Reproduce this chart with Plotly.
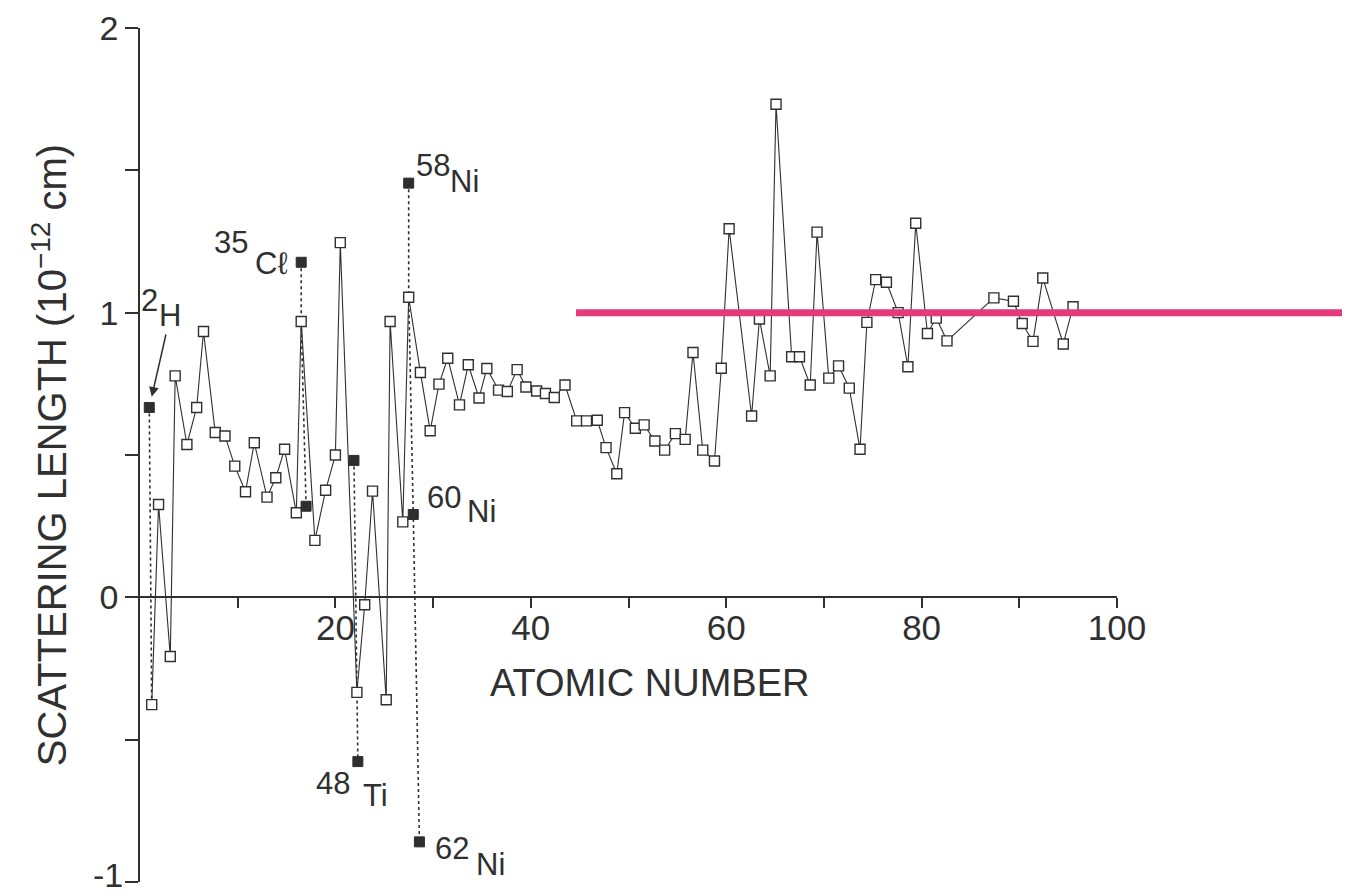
import plotly.graph_objects as go

# ---------------- data ----------------
elements = ["H", "He", "Li", "Be", "B", "C", "N", "O", "F", "Ne",
            "Na", "Mg", "Al", "Si", "P", "S", "Cl", "Ar", "K", "Ca",
            "Sc", "Ti", "V", "Cr", "Mn", "Fe", "Co", "Ni", "Cu", "Zn",
            "Ga", "Ge", "As", "Se", "Br", "Kr", "Rb", "Sr", "Y", "Zr",
            "Nb", "Mo", "Tc", "Ru", "Rh", "Pd", "Ag", "Cd", "In", "Sn",
            "Sb", "Te", "I", "Xe", "Cs", "Ba", "La", "Ce", "Pr", "Nd",
            "Pm", "Sm", "Eu", "Tb", "Dy", "Ho", "Er", "Tm", "Yb", "Lu",
            "Hf", "Ta", "W", "Re", "Os", "Ir", "Pt", "Au", "Hg", "Tl",
            "Pb", "Bi", "Ra", "Th", "Pa", "U", "Np", "Pu", "Am"]

atomic_number = [1.2, 1.9, 3.1, 3.6, 4.8, 5.8, 6.5, 7.7, 8.7, 9.7,
                 10.8, 11.7, 13.0, 13.9, 14.8, 16.0, 16.5, 17.9, 19.0, 20.0,
                 20.5, 22.2, 23.0, 23.8, 25.2, 25.6, 26.9, 27.5, 28.7, 29.7,
                 30.6, 31.5, 32.7, 33.6, 34.7, 35.5, 36.7, 37.6, 38.6, 39.5,
                 40.6, 41.5, 42.4, 43.5, 44.7, 45.7, 46.8, 47.7, 48.8, 49.6,
                 50.7, 51.6, 52.7, 53.7, 54.8, 55.8, 56.6, 57.6, 58.8, 59.5,
                 60.3, 62.6, 63.4, 64.5, 65.1, 66.7, 67.5, 68.6, 69.3, 70.5,
                 71.5, 72.6, 73.7, 74.4, 75.3, 76.4, 77.6, 78.6, 79.4, 80.6,
                 81.5, 82.6, 87.4, 89.4, 90.3, 91.4, 92.4, 94.5, 95.5]

scattering_length = [-0.377, 0.326, -0.208, 0.778, 0.537, 0.667, 0.934, 0.579, 0.567, 0.461,
                     0.371, 0.543, 0.352, 0.420, 0.520, 0.297, 0.969, 0.200, 0.376, 0.500,
                     1.246, -0.334, -0.026, 0.373, -0.360, 0.969, 0.265, 1.054, 0.790, 0.585,
                     0.749, 0.840, 0.676, 0.817, 0.700, 0.804, 0.728, 0.723, 0.800, 0.739,
                     0.725, 0.716, 0.702, 0.746, 0.620, 0.620, 0.622, 0.526, 0.434, 0.649,
                     0.594, 0.606, 0.549, 0.517, 0.575, 0.555, 0.860, 0.517, 0.479, 0.805,
                     1.295, 0.637, 0.978, 0.778, 1.732, 0.845, 0.845, 0.746, 1.283, 0.770,
                     0.813, 0.735, 0.520, 0.966, 1.116, 1.107, 1.000, 0.810, 1.314, 0.927,
                     0.981, 0.901, 1.052, 1.040, 0.962, 0.899, 1.122, 0.890, 1.021]

# isotopes (filled squares), linked by dotted lines to their element
iso_mass = ["2", "35", "37", "46", "48", "58", "60", "62"]
iso_element = ["H", "Cl", "Cl", "Ti", "Ti", "Ni", "Ni", "Ni"]
iso_z = [0.95, 16.5, 17.0, 21.9, 22.3, 27.5, 27.97, 28.6]
iso_b = [0.667, 1.177, 0.320, 0.481, -0.577, 1.455, 0.291, -0.859]
iso_symbol_text = ["H", "Cℓ", "", "", "Ti", "Ni", "Ni", "Ni"]

x_tick_values = [10, 20, 30, 40, 50, 60, 70, 80, 90, 100]
x_tick_text = ["", "20", "", "40", "", "60", "", "80", "", "100"]
y_tick_values = [-1, -0.5, 0, 0.5, 1, 1.5, 2]
y_tick_text = ["", "", "0", "", "1", "", "2"]
y_bottom_label = "-1"
highlight_level = 1.0

# ---------------- styling ----------------
INK = "#303030"
FONT = "Liberation Sans, Arial, sans-serif"

fig = go.Figure()

# dotted isotope links
for el in dict.fromkeys(iso_element):
    pts = [(z, b) for z, b, e in zip(iso_z, iso_b, iso_element) if e == el]
    i = elements.index(el)
    pts.append((atomic_number[i], scattering_length[i]))
    pts.sort(key=lambda p: -p[1])
    fig.add_trace(go.Scatter(
        x=[p[0] for p in pts], y=[p[1] for p in pts], mode="lines",
        line=dict(color=INK, width=1.6, dash="dot"),
        hoverinfo="skip", showlegend=False))

# main element curve
fig.add_trace(go.Scatter(
    x=atomic_number, y=scattering_length, mode="lines+markers",
    text=elements,
    line=dict(color=INK, width=1.1),
    marker=dict(symbol="square", size=10, color="white",
                line=dict(color=INK, width=1.4)),
    showlegend=False))

# isotope markers
fig.add_trace(go.Scatter(
    x=iso_z, y=iso_b, mode="markers",
    marker=dict(symbol="square", size=10, color="#2e2e2e",
                line=dict(color="#2e2e2e", width=1)),
    showlegend=False))

# isotope labels: (mass-number offset, symbol offset) in pixels
label_offsets = {
    0: ((0, 107), None),
    1: ((-70, 20), (-30, -1)),
    4: ((-25, -22), (18, -34)),
    5: ((24, 18), (56, 2)),
    6: ((31, 17), (68, 3)),
    7: ((33, -7), (71, -23)),
}
LABEL_FONT = dict(family=FONT, size=31, color=INK)
for i, (moff, soff) in label_offsets.items():
    fig.add_annotation(x=iso_z[i], y=iso_b[i], text=iso_mass[i],
                       showarrow=False, xshift=moff[0], yshift=moff[1],
                       font=LABEL_FONT)
    if soff is not None:
        fig.add_annotation(x=iso_z[i], y=iso_b[i], text=iso_symbol_text[i],
                           showarrow=False, xshift=soff[0], yshift=soff[1],
                           font=LABEL_FONT)

# 2H label with arrow
fig.add_annotation(x=iso_z[0], y=iso_b[0], text="H", showarrow=True,
                   ax=21, ay=-92, standoff=11, arrowhead=2, arrowsize=1.3,
                   arrowwidth=1.5, arrowcolor=INK, font=LABEL_FONT)

# bottom y tick label, nudged up so it stays inside the page
fig.add_annotation(xref="paper", x=0, y=y_tick_values[0], text=y_bottom_label,
                   showarrow=False, xanchor="right", xshift=-15, yshift=7,
                   font=dict(family=FONT, size=34, color=INK))

# x axis title placed under the axis
fig.add_annotation(x=52.2, y=-0.30, text="ATOMIC NUMBER", showarrow=False,
                   font=dict(family=FONT, size=38, color=INK))

# pink highlight line at b = 1
fig.add_shape(type="line", xref="paper", yref="y",
              x0=0.4463, x1=1.2303, y0=highlight_level, y1=highlight_level,
              line=dict(color="#E33B7A", width=7), layer="above")

# the page body adds an 8 px margin, so the figure is sized/offset for it
fig.update_layout(
    width=1342, height=888,
    margin=dict(l=132, r=233, t=20, b=14, autoexpand=False),
    paper_bgcolor="white", plot_bgcolor="white",
    font=dict(family=FONT, color=INK),
    showlegend=False,
)
fig.update_xaxes(
    range=[0, 100], anchor="free", position=1/3,
    showline=True, linecolor=INK, linewidth=1.6,
    showgrid=False, zeroline=False,
    tickmode="array", tickvals=x_tick_values, ticktext=x_tick_text,
    ticks="outside", ticklen=10, tickwidth=1.5, tickcolor=INK,
    tickfont=dict(family=FONT, size=35, color=INK),
    ticklabelstandoff=-10,
    automargin=False,
)
fig.update_yaxes(
    range=[-1, 2], showline=True, linecolor=INK, linewidth=1.6,
    showgrid=False, zeroline=False,
    tickmode="array", tickvals=y_tick_values, ticktext=y_tick_text,
    ticks="outside", ticklen=13, tickwidth=1.5, tickcolor=INK,
    tickfont=dict(family=FONT, size=34, color=INK),
    title=dict(text="SCATTERING LENGTH (10<sup>−12</sup> cm)",
               font=dict(family=FONT, size=40, color=INK), standoff=20),
    automargin=False,
)

fig.write_html("out.html")
